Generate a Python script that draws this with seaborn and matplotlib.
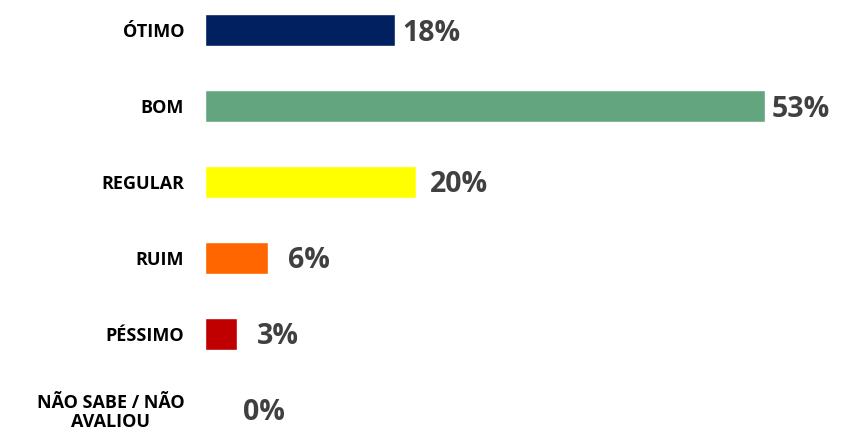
import matplotlib
matplotlib.use("Agg")
import matplotlib.pyplot as plt
import seaborn as sns
import pandas as pd

categories = ["ÓTIMO", "BOM", "REGULAR", "RUIM", "PÉSSIMO", "NÃO SABE / NÃO\nAVALIOU"]
values = [18, 53, 20, 6, 3, 0]
labels = ["18%", "53%", "20%", "6%", "3%", "0%"]
colors = ["#002060", "#63A57E", "#FFFF00", "#FF6600", "#C00000", "#A0A0A0"]
label_pad_px = [7, 7, 14, 20, 20, 38]

sns.set_theme(style="white")
plt.rcParams["font.family"] = ["Open Sans", "DejaVu Sans"]

df = pd.DataFrame({"cat": categories, "val": values})

fig = plt.figure(figsize=(8.55, 4.32), dpi=100)
ax = fig.add_axes([205 / 855, 0.0, 634 / 855, 1.0])
sns.barplot(data=df, y="cat", x="val", hue="cat", palette=colors, orient="h",
            width=0.41, legend=False, ax=ax, saturation=1)

ax.set_xlim(0, 60)
ax.set_ylim(5.29, -0.395)
for s in ax.spines.values():
    s.set_visible(False)
ax.set_xticks([])
ax.set_xlabel("")
ax.set_ylabel("")
ax.tick_params(axis="y", length=0, pad=15)
for t in ax.get_yticklabels():
    t.set_fontsize(13)
    t.set_fontweight("bold")
    t.set_color("black")
    t.set_multialignment("center")
    t.set_linespacing(1.05)

for i, (v, lab, pad) in enumerate(zip(values, labels, label_pad_px)):
    ax.annotate(lab, xy=(v, i), xytext=(pad, -3), textcoords="offset pixels",
                ha="left", va="center", fontsize=20.5, fontweight="bold",
                color="#404040")

fig.savefig("out.png", dpi=100)
